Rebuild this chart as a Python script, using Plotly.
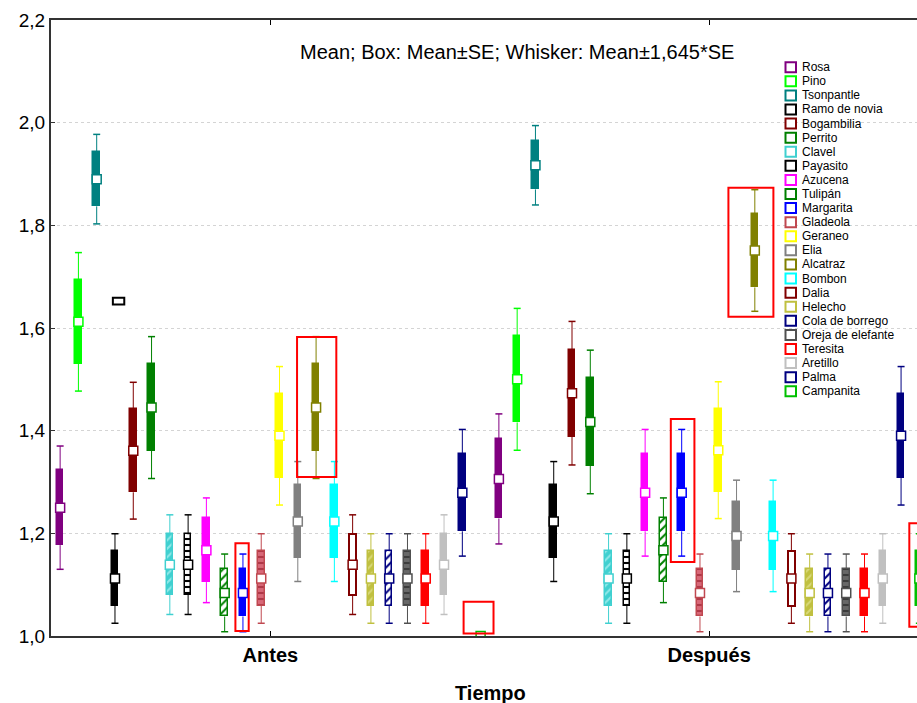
import plotly.graph_objects as go

# ---------------- data ----------------
categories = ["Antes", "Después"]
series = ["Rosa", "Pino", "Tsonpantle", "Ramo de novia", "Bogambilia", "Perrito", "Clavel",
          "Payasito", "Azucena", "Tulipán", "Margarita", "Gladeola", "Geraneo", "Elia",
          "Alcatraz", "Bombon", "Dalia", "Helecho", "Cola de borrego", "Oreja de elefante",
          "Teresita", "Aretillo", "Palma", "Campanita"]
mean_antes = [1.250, 1.612, 1.890, 1.112, 1.361, 1.445, 1.139, 1.139, 1.167, 1.084, 1.084, 1.112,
              1.390, 1.223, 1.445, 1.223, 1.139, 1.112, 1.112, 1.112, 1.112, 1.139, 1.279, 1.000]
se_antes = [0.073, 0.082, 0.053, 0.053, 0.081, 0.084, 0.059, 0.059, 0.062, 0.046, 0.046, 0.053,
            0.082, 0.071, 0.084, 0.071, 0.059, 0.053, 0.053, 0.053, 0.053, 0.059, 0.075, 0.0]
mean_despues = [1.306, 1.500, 1.917, 1.223, 1.473, 1.417, 1.112, 1.112, 1.279, 1.167, 1.279, 1.084,
                1.362, 1.195, 1.751, 1.195, 1.112, 1.084, 1.084, 1.084, 1.084, 1.112, 1.390, 1.112]
se_despues = [0.077, 0.084, 0.047, 0.071, 0.085, 0.085, 0.053, 0.053, 0.075, 0.062, 0.075, 0.046,
              0.081, 0.066, 0.072, 0.066, 0.053, 0.046, 0.046, 0.046, 0.046, 0.053, 0.082, 0.053]
whisker_factor = 1.645
y_ticks = [1.0, 1.2, 1.4, 1.6, 1.8, 2.0, 2.2]

# ---------------- styles ----------------
colors = ['#800080', '#00FF00', '#008080', '#000000', '#800000', '#008000', '#40D0D0',
          '#000000', '#FF00FF', '#008000', '#0000FF', '#C04850', '#FFFF00', '#808080',
          '#808000', '#00FFFF', '#800000', '#C0C040', '#000080', '#505050', '#FF0000',
          '#C0C0C0', '#000080', '#00C000']
# box fill styles: (pattern shape, fg, bg)  None => solid fill
box_pattern = {
    "Clavel": ("/", "#90E8E8", "#40D0D0"),
    "Payasito": ("-", "#000000", "#FFFFFF"),
    "Tulipán": ("/", "#008000", "#FFFFFF"),
    "Gladeola": ("-", "#B03848", "#D86878"),
    "Helecho": ("/", "#D8D878", "#C0C040"),
    "Cola de borrego": ("/", "#000080", "#FFFFFF"),
    "Oreja de elefante": ("-", "#3C3C3C", "#686868"),
}
hollow = {"Dalia"}

n = len(series)
slot = 1.0 / n
box_w = 0.015

fig = go.Figure()

for i, name in enumerate(series):
    c = colors[i]
    xs = [ci + (i - (n - 1) / 2) * slot for ci in range(len(categories))]
    means = [mean_antes[i], mean_despues[i]]
    ses = [se_antes[i], se_despues[i]]

    # boxes (mean ± SE)
    bases = [m - s for m, s in zip(means, ses)]
    heights = [2 * s if s > 0 else None for s in ses]
    marker = dict(color=c, line=dict(color=c, width=1.5))
    if name in box_pattern:
        shp, fg, bg = box_pattern[name]
        marker = dict(color=bg, line=dict(color=c, width=1.5),
                      pattern=dict(shape=shp, fgcolor=fg, bgcolor=bg, size=6,
                                   solidity=0.35, fillmode="replace"))
    if name in hollow:
        marker = dict(color="#FFFFFF", line=dict(color=c, width=2))
    fig.add_trace(go.Bar(x=xs, y=heights, base=bases, width=box_w, marker=marker,
                         showlegend=False, hoverinfo="skip"))

    # whiskers (mean ± 1.645 SE)
    wx, wy = [], []
    for x, m, s in zip(xs, means, ses):
        if s <= 0:
            continue
        wx += [x, x, None, x, x, None]
        wy += [m + s, m + whisker_factor * s, None, m - s, m - whisker_factor * s, None]
    fig.add_trace(go.Scatter(x=wx, y=wy, mode="lines", line=dict(color=c, width=1),
                             showlegend=False, hoverinfo="skip"))
    cx, cy = [], []
    for x, m, s in zip(xs, means, ses):
        if s <= 0:
            continue
        cx += [x, x]
        cy += [m + whisker_factor * s, m - whisker_factor * s]
    fig.add_trace(go.Scatter(x=cx, y=cy, mode="markers",
                             marker=dict(symbol="line-ew", size=5, line=dict(color=c, width=1.5)),
                             showlegend=False, hoverinfo="skip"))

    # mean markers
    fig.add_trace(go.Scatter(x=xs, y=means, mode="markers",
                             marker=dict(symbol="square", size=9, color="#FFFFFF",
                                         line=dict(color=c, width=1.5)),
                             showlegend=False, name=name))

# ---------------- geometry helpers ----------------
L, R, T, B = 51, 917, 20, 636
def px_x(p):
    return (p - L) / (R - L)
def px_y(p):
    return (B - p) / (B - T)

shapes = []
# red highlight rectangles (data coords)
red_boxes = [(-0.0797, -0.0494, 1.0097, 1.1806),
             (0.0608, 0.1503, 1.3098, 1.5825),
             (0.4404, 0.5086, 1.0050, 1.0668),
             (0.9127, 0.9665, 1.1442, 1.4227),
             (1.0440, 1.1465, 1.6220, 1.8734),
             (1.4563, 1.6000, 1.0180, 1.2196)]
for x0, x1, y0, y1 in red_boxes:
    shapes.append(dict(type="rect", xref="x", yref="y", x0=x0, x1=x1, y0=y0, y1=y1,
                       line=dict(color="#FF0000", width=2), fillcolor="rgba(0,0,0,0)"))
shapes.append(dict(type="rect", xref="x", yref="y", x0=-0.359, x1=-0.333, y0=1.646, y1=1.659,
                   line=dict(color="#000000", width=2), fillcolor="rgba(0,0,0,0)"))

annotations = []
# manual legend
for i, name in enumerate(series):
    cyp = 67.2 + 14.09 * i
    shapes.append(dict(type="rect", xref="paper", yref="paper",
                       x0=px_x(785.5), x1=px_x(796), y0=px_y(cyp + 5), y1=px_y(cyp - 5),
                       line=dict(color=colors[i], width=2), fillcolor="#FFFFFF"))
    annotations.append(dict(x=px_x(800), y=px_y(cyp), xref="paper", yref="paper",
                            text=name, showarrow=False, xanchor="left", yanchor="middle",
                            font=dict(family="Liberation Sans, Arial", size=12, color="#000000")))

annotations.append(dict(x=px_x(517), y=px_y(52), xref="paper", yref="paper",
                        text="Mean; Box: Mean±SE; Whisker: Mean±1,645*SE", showarrow=False,
                        xanchor="center", yanchor="middle",
                        font=dict(family="Liberation Sans, Arial", size=20, color="#000000")))
annotations.append(dict(x=px_x(490), y=px_y(693), xref="paper", yref="paper",
                        text="<b>Tiempo</b>", showarrow=False, xanchor="center", yanchor="middle",
                        font=dict(family="Liberation Sans, Arial", size=20, color="#000000")))

fig.update_layout(
    width=917, height=703,
    margin=dict(l=L, r=917 - R, t=T, b=703 - B, pad=0),
    paper_bgcolor="#FFFFFF", plot_bgcolor="#FFFFFF",
    barmode="overlay", bargap=0,
    separators=",.",
    showlegend=False,
    shapes=shapes, annotations=annotations,
    font=dict(family="Liberation Sans, Arial", color="#000000"),
)
fig.update_xaxes(range=[-0.5, (R - 270) / 439.0], tickvals=[0, 1], ticktext=["<b>Antes</b>", "<b>Después</b>"],
                 tickfont=dict(size=20, color="#000000"), ticks="inside", ticklen=5, tickcolor="#000000",
                 showline=True, linecolor="#333333", linewidth=2, mirror="ticks",
                 showgrid=False, zeroline=False)
fig.update_yaxes(range=[1.0, 2.2], tickvals=y_ticks, tickformat=".1f",
                 tickfont=dict(size=19, color="#000000"), ticks="inside", ticklen=4, tickcolor="#333333",
                 showline=True, linecolor="#333333", linewidth=2,
                 showgrid=True, gridcolor="#D4D4D4", griddash="dot", gridwidth=1, zeroline=False)

fig.write_html("out.html")
